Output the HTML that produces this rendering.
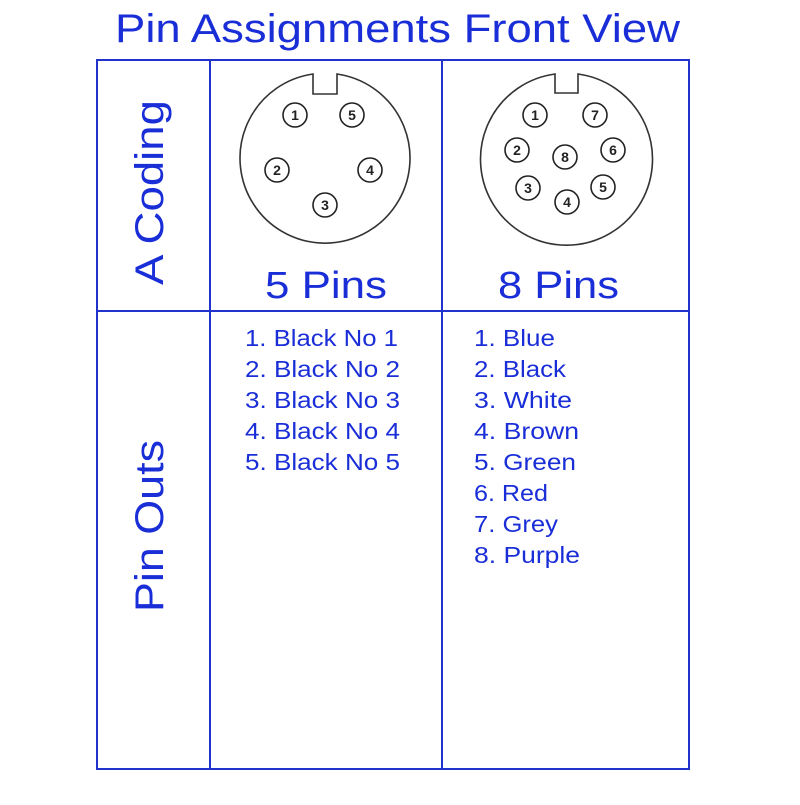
<!DOCTYPE html>
<html><head><style>
body{margin:0;background:#fff;}
.t{font-family:"Liberation Sans","DejaVu Sans",sans-serif;fill:#1a2ed8;}
</style></head><body>
<svg width="800" height="800" xmlns="http://www.w3.org/2000/svg">
<text class="t" x="115" y="42" font-size="40" textLength="565" lengthAdjust="spacingAndGlyphs">Pin Assignments Front View</text>
<g stroke="#2233cc" stroke-width="2" fill="none">
<rect x="97" y="60" width="592" height="709"/>
<line x1="210" y1="60" x2="210" y2="769"/>
<line x1="442" y1="60" x2="442" y2="769"/>
<line x1="97" y1="311" x2="689" y2="311"/>
</g>
<text class="t" font-size="40" textLength="185" lengthAdjust="spacingAndGlyphs" transform="translate(163,285) rotate(-90)">A Coding</text>
<text class="t" font-size="40" textLength="172" lengthAdjust="spacingAndGlyphs" transform="translate(163,612) rotate(-90)">Pin Outs</text>
<text class="t" x="265" y="298" font-size="38" textLength="122" lengthAdjust="spacingAndGlyphs">5 Pins</text>
<text class="t" x="498" y="298" font-size="38" textLength="121" lengthAdjust="spacingAndGlyphs">8 Pins</text>
<g stroke="#333" stroke-width="1.6" fill="none">
<path d="M313,74 A85,85 0 1 0 337,74 L337,94 L313,94 Z"/>
<path d="M555,74 A86,86 0 1 0 578,74 L578,93 L555,93 Z"/>
</g>
<g stroke="#222" stroke-width="1.6" fill="#fff">
<circle cx="295" cy="115" r="12"/><circle cx="352" cy="115" r="12"/>
<circle cx="277" cy="170" r="12"/><circle cx="370" cy="170" r="12"/>
<circle cx="325" cy="205" r="12"/>
<circle cx="535" cy="115" r="12"/><circle cx="595" cy="115" r="12"/>
<circle cx="517" cy="150" r="12"/><circle cx="565" cy="157" r="12"/>
<circle cx="613" cy="150" r="12"/><circle cx="528" cy="188" r="12"/>
<circle cx="567" cy="202" r="12"/><circle cx="603" cy="187" r="12"/>
</g>
<g font-family="Liberation Sans,sans-serif" font-size="14" font-weight="bold" fill="#222" text-anchor="middle">
<text x="295" y="120">1</text><text x="352" y="120">5</text>
<text x="277" y="175">2</text><text x="370" y="175">4</text>
<text x="325" y="210">3</text>
<text x="535" y="120">1</text><text x="595" y="120">7</text>
<text x="517" y="155">2</text><text x="565" y="162">8</text>
<text x="613" y="155">6</text><text x="528" y="193">3</text>
<text x="567" y="207">4</text><text x="603" y="192">5</text>
</g>
<g class="t" font-size="23">
<text x="245" y="346" textLength="153" lengthAdjust="spacingAndGlyphs">1. Black No 1</text>
<text x="245" y="377" textLength="155" lengthAdjust="spacingAndGlyphs">2. Black No 2</text>
<text x="245" y="408" textLength="155" lengthAdjust="spacingAndGlyphs">3. Black No 3</text>
<text x="245" y="439" textLength="155" lengthAdjust="spacingAndGlyphs">4. Black No 4</text>
<text x="245" y="470" textLength="155" lengthAdjust="spacingAndGlyphs">5. Black No 5</text>
<text x="474" y="346" textLength="81" lengthAdjust="spacingAndGlyphs">1. Blue</text>
<text x="474" y="377" textLength="92" lengthAdjust="spacingAndGlyphs">2. Black</text>
<text x="474" y="408" textLength="98" lengthAdjust="spacingAndGlyphs">3. White</text>
<text x="474" y="439" textLength="105" lengthAdjust="spacingAndGlyphs">4. Brown</text>
<text x="474" y="470" textLength="102" lengthAdjust="spacingAndGlyphs">5. Green</text>
<text x="474" y="501" textLength="74" lengthAdjust="spacingAndGlyphs">6. Red</text>
<text x="474" y="532" textLength="84" lengthAdjust="spacingAndGlyphs">7. Grey</text>
<text x="474" y="563" textLength="106" lengthAdjust="spacingAndGlyphs">8. Purple</text>
</g>
</svg>
</body></html>
